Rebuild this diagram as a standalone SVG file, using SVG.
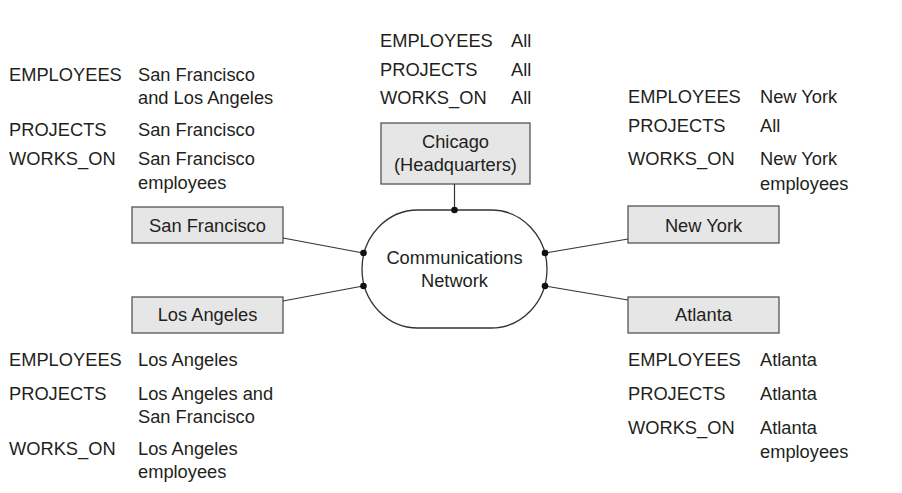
<svg xmlns="http://www.w3.org/2000/svg" width="902" height="493" viewBox="0 0 902 493">
<style>
text{font-family:"Liberation Sans",Arial,sans-serif;font-size:18.3px;fill:#231f20}
.box{fill:#e6e6e6;stroke:#555;stroke-width:1.3}
.mid{text-anchor:middle}
.conn line{stroke:#333;stroke-width:1.2}
.conn circle{fill:#111}
</style>
<rect width="902" height="493" fill="#fff"/>
<g id="network">
<rect x="362" y="210" width="185" height="118" rx="56" ry="59" fill="#fff" stroke="#333" stroke-width="1.3"/>
<text class="mid" x="454.5" y="264">Communications</text>
<text class="mid" x="454.5" y="287">Network</text>
</g>
<g id="chicago">
<rect class="box" x="381" y="123" width="149" height="61"/>
<text class="mid" x="455.5" y="147.5">Chicago</text>
<text class="mid" x="455.5" y="171">(Headquarters)</text>
</g>
<g id="sanfrancisco">
<rect class="box" x="132" y="207" width="151" height="36"/>
<text class="mid" x="207.5" y="231.5">San Francisco</text>
</g>
<g id="losangeles">
<rect class="box" x="132" y="297" width="151" height="36"/>
<text class="mid" x="207.5" y="320.5">Los Angeles</text>
</g>
<g id="newyork">
<rect class="box" x="628" y="206" width="151" height="37"/>
<text class="mid" x="703.5" y="231.5">New York</text>
</g>
<g id="atlanta">
<rect class="box" x="628" y="297" width="151" height="36"/>
<text class="mid" x="703.5" y="320.5">Atlanta</text>
</g>
<g id="connectors" class="conn">
<line x1="454.5" y1="184" x2="454.5" y2="210"/>
<line x1="283" y1="238" x2="363" y2="253"/>
<line x1="283" y1="301" x2="363" y2="286"/>
<line x1="545" y1="253" x2="628" y2="239"/>
<line x1="545" y1="286" x2="628" y2="300"/>
<circle cx="454.5" cy="210" r="3.3"/>
<circle cx="363.5" cy="253" r="3.3"/>
<circle cx="363.5" cy="286" r="3.3"/>
<circle cx="545" cy="253" r="3.3"/>
<circle cx="545" cy="286" r="3.3"/>
</g>
<g id="table-chicago">
<text x="380" y="47">EMPLOYEES</text><text x="511" y="47">All</text>
<text x="380" y="76">PROJECTS</text><text x="511" y="76">All</text>
<text x="380" y="103.5">WORKS_ON</text><text x="511" y="103.5">All</text>
</g>
<g id="table-sf">
<text x="9" y="81">EMPLOYEES</text><text x="138" y="81">San Francisco</text>
<text x="138" y="104">and Los Angeles</text>
<text x="9" y="136">PROJECTS</text><text x="138" y="136">San Francisco</text>
<text x="9" y="165">WORKS_ON</text><text x="138" y="165">San Francisco</text>
<text x="138" y="189">employees</text>
</g>
<g id="table-la">
<text x="9" y="366">EMPLOYEES</text><text x="138" y="366">Los Angeles</text>
<text x="9" y="399.5">PROJECTS</text><text x="138" y="399.5">Los Angeles and</text>
<text x="138" y="423">San Francisco</text>
<text x="9" y="455">WORKS_ON</text><text x="138" y="455">Los Angeles</text>
<text x="138" y="478">employees</text>
</g>
<g id="table-ny">
<text x="628" y="102.5">EMPLOYEES</text><text x="760" y="102.5">New York</text>
<text x="628" y="131.5">PROJECTS</text><text x="760" y="131.5">All</text>
<text x="628" y="165">WORKS_ON</text><text x="760" y="165">New York</text>
<text x="760" y="190">employees</text>
</g>
<g id="table-atlanta">
<text x="628" y="366">EMPLOYEES</text><text x="760" y="366">Atlanta</text>
<text x="628" y="400">PROJECTS</text><text x="760" y="400">Atlanta</text>
<text x="628" y="433.5">WORKS_ON</text><text x="760" y="433.5">Atlanta</text>
<text x="760" y="457.5">employees</text>
</g>
</svg>
